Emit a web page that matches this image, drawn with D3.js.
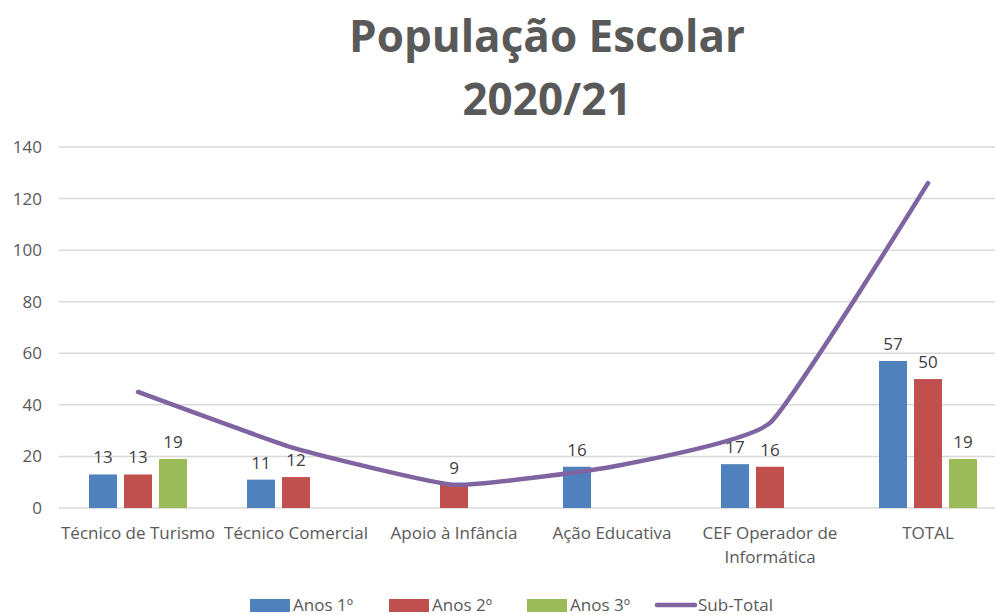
<!DOCTYPE html>
<html>
<head>
<meta charset="utf-8">
<script src="https://cdn.jsdelivr.net/npm/d3@7"></script>
<style>
  body { margin: 0; background: #fff; }
  svg { display: block; font-family: "Open Sans", "Noto Sans", sans-serif; }
</style>
</head>
<body>
<div id="chart"></div>
<script>
// chart values
let categories = ["Técnico de Turismo", "Técnico Comercial", "Apoio à Infância", "Ação Educativa", "CEF Operador de Informática", "TOTAL"];
let anos1 = [13, 11, null, 16, 17, 57];
let anos2 = [13, 12, 9, null, 16, 50];
let anos3 = [19, null, null, null, null, 19];
let subTotal = [45, 23, 9, 16, 33, 126];
let seriesNames = ["Anos 1º", "Anos 2º", "Anos 3º"];
let yTicks = [0, 20, 40, 60, 80, 100, 120, 140];

let width = 995, height = 615;
let margin = {top: 147, right: -12, bottom: 107, left: 59};

let svg = d3.select("#chart").append("svg")
	.attr("width", width)
	.attr("height", height);

let colors = d3.scaleOrdinal()
	.domain(seriesNames)
	.range(["#4f81bd", "#c0504d", "#9bbb59"]);
let lineColor = "#8064a2";

//title
let title = svg.append("text")
	.attr("text-anchor", "middle")
	.attr("fill", "#595959")
	.attr("font-weight", "bold")
	.attr("font-size", 44);
title.append("tspan").attr("x", 547).attr("y", 52).text("População Escolar");
title.append("tspan").attr("x", 547).attr("y", 115).text("2020/21");

//scales
let x0 = d3.scaleBand()
	.domain(categories)
	.range([margin.left, width - margin.right]);

let x1 = d3.scaleBand()
	.domain(seriesNames)
	.range([0, 98])
	.paddingInner(0.2);

let y = d3.scaleLinear()
	.domain([0, 140])
	.range([height - margin.bottom, margin.top]);

//grid
svg.append("g")
	.selectAll("line")
	.data(yTicks)
	.join("line")
	.attr("x1", margin.left)
	.attr("x2", width)
	.attr("y1", d => y(d))
	.attr("y2", d => y(d))
	.attr("stroke", "#d9d9d9")
	.attr("stroke-width", 1.5);

//y axis
let yAxis = d3.axisLeft(y).tickValues(yTicks).tickSize(0).tickPadding(0);
svg.append("g")
	.attr("transform", `translate(${margin.left - 17},0)`)
	.call(yAxis)
	.call(g => g.select(".domain").remove())
	.selectAll("text")
	.attr("font-size", 17)
	.attr("fill", "#595959")
	.attr("font-family", "\"Open Sans\", sans-serif");

//category labels
let catLabels = svg.append("g")
	.selectAll("text")
	.data(categories)
	.join("text")
	.attr("text-anchor", "middle")
	.attr("font-size", 17)
	.attr("fill", "#595959")
	.attr("x", d => x0(d) + x0.bandwidth() / 2)
	.attr("y", 539);
catLabels.each(function(d) {
	let lines = d === "CEF Operador de Informática" ? ["CEF Operador de", "Informática"] : [d];
	let t = d3.select(this);
	lines.forEach((l, i) => {
		t.append("tspan")
			.attr("x", x0(d) + x0.bandwidth() / 2)
			.attr("dy", i === 0 ? 0 : 24)
			.text(l);
	});
});

//bars
let barData = [];
categories.forEach((c, i) => {
	[anos1, anos2, anos3].forEach((s, j) => {
		if (s[i] != null) barData.push({cat: c, series: seriesNames[j], value: s[i]});
	});
});

let groupOffset = x0.bandwidth() / 2 - 49;

svg.append("g")
	.selectAll("rect")
	.data(barData)
	.join("rect")
	.attr("x", d => x0(d.cat) + groupOffset + x1(d.series))
	.attr("y", d => y(d.value))
	.attr("width", x1.bandwidth())
	.attr("height", d => y(0) - y(d.value))
	.attr("fill", d => colors(d.series));

//data labels
svg.append("g")
	.selectAll("text")
	.data(barData)
	.join("text")
	.attr("text-anchor", "middle")
	.attr("font-size", 17)
	.attr("fill", "#404040")
	.attr("x", d => x0(d.cat) + groupOffset + x1(d.series) + x1.bandwidth() / 2)
	.attr("y", d => y(d.value) - 11)
	.text(d => d.value);

//sub-total line
let line = d3.line()
	.x((d, i) => x0(categories[i]) + x0.bandwidth() / 2)
	.y(d => y(d))
	.curve(d3.curveCardinal.tension(0.6));

svg.append("path")
	.datum(subTotal)
	.attr("d", line)
	.attr("fill", "none")
	.attr("stroke", lineColor)
	.attr("stroke-width", 4.5)
	.attr("stroke-linecap", "round");

//legend
let legendItems = [
	{name: "Anos 1º", x: 250, type: "rect"},
	{name: "Anos 2º", x: 389, type: "rect"},
	{name: "Anos 3º", x: 527, type: "rect"},
	{name: "Sub-Total", x: 655, type: "line"}
];
let legend = svg.append("g");
legendItems.forEach(d => {
	let g = legend.append("g").attr("transform", `translate(${d.x},605)`);
	if (d.type === "rect") {
		g.append("rect")
			.attr("x", 0).attr("y", -6)
			.attr("width", 40).attr("height", 13)
			.attr("fill", colors(d.name));
	} else {
		g.append("line")
			.attr("x1", 2).attr("x2", 40)
			.attr("y1", 0).attr("y2", 0)
			.attr("stroke", lineColor)
			.attr("stroke-width", 4.5)
			.attr("stroke-linecap", "round");
	}
	g.append("text")
		.attr("x", 43)
		.attr("y", 6)
		.attr("font-size", 17)
		.attr("fill", "#595959")
		.text(d.name);
});
</script>
</body>
</html>
